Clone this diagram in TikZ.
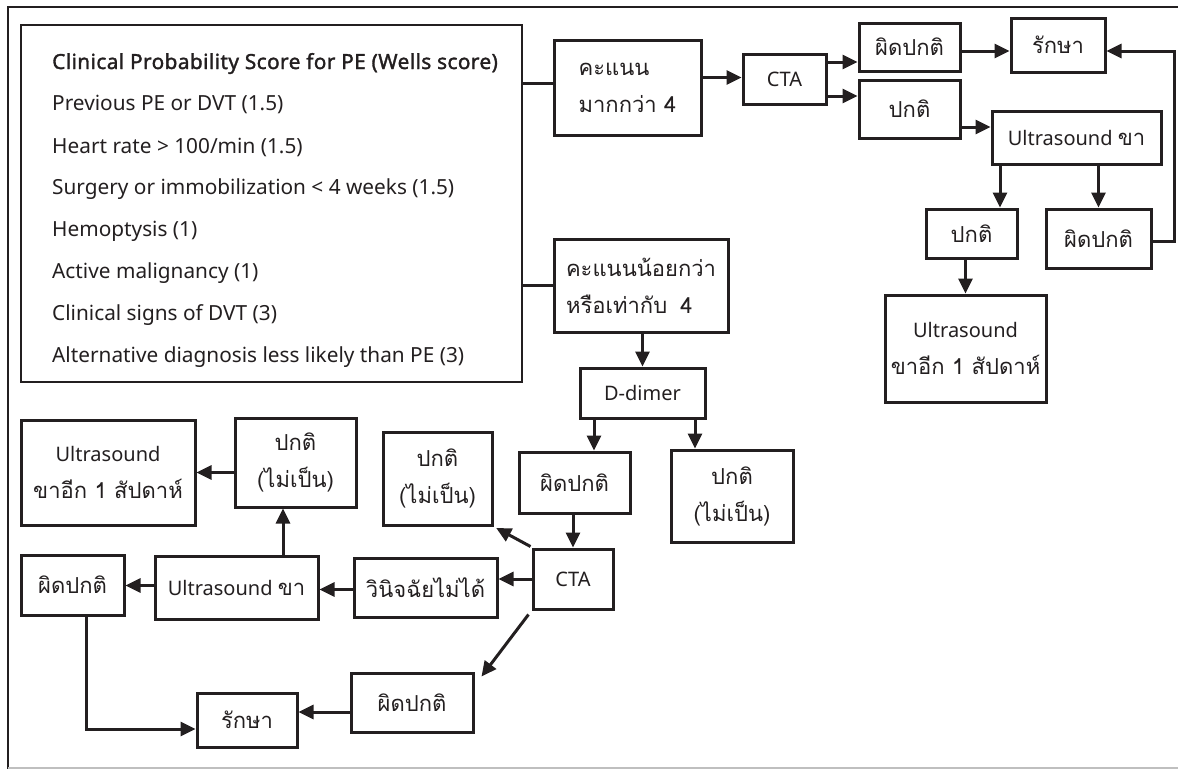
\documentclass[tikz,border=0pt]{standalone}
\usepackage{fontspec}
\setmainfont{Noto Sans}
\newfontfamily\thaifont[Script=Thai,Scale=1.1]{Loma}
\newfontfamily\titlefont{Noto Sans}[FakeBold=1.6,LetterSpace=2]
\newcommand\tha[1]{{\thaifont #1}}
\usetikzlibrary{arrows.meta}
\definecolor{ink}{HTML}{231F20}
\begin{document}
\begin{tikzpicture}[x=1pt,y=-1pt,
  box/.style={draw=ink, line width=3pt, inner sep=0pt, align=center, text=ink,
              font=\fontsize{20}{37}\selectfont},
  arr/.style={draw=ink, line width=3pt, -{Triangle[length=15pt,width=14pt]}},
  conn/.style={draw=ink, line width=3pt},
  bigbox/.style={draw=ink, line width=2pt, inner sep=0pt},
  scoreline/.style={anchor=base west, inner sep=0pt, text=ink, font=\fontsize{20.8}{24}\selectfont}]
\useasboundingbox (0,0) rectangle (1178,769);
% outer frame
\draw[ink, line width=2.5pt] (1178,7) -- (8,7) -- (8,769);
\draw[black!25, line width=1.5pt] (8,768) -- (1178,768);

% score box
\node[bigbox, minimum width=501pt, minimum height=357pt] (score) at (271.5,203.5) {};
\node[scoreline] (l1) at (52,69)  {\titlefont\fontsize{20.8}{24}\selectfont Clinical Probability Score for PE (Wells score)};
\node[scoreline] (l2) at (52,110) {Previous PE or DVT (1.5)};
\node[scoreline] (l3) at (52,153) {Heart rate > 100/min (1.5)};
\node[scoreline] (l4) at (52,194) {Surgery or immobilization < 4 weeks (1.5)};
\node[scoreline] (l5) at (52,236) {Hemoptysis (1)};
\node[scoreline] (l6) at (52,278) {Active malignancy (1)};
\node[scoreline] (l7) at (52,320) {Clinical signs of DVT (3)};
\node[scoreline] (l8) at (52,362) {Alternative diagnosis less likely than PE (3)};

% upper branch
\node[box, align=left, minimum width=147pt, minimum height=95pt] (k1) at (627.5,87.5) {\tha{คะแนน}\\\tha{มากกว่า 4}};
\node[box, minimum width=83pt, minimum height=50pt] (cta1) at (784.5,79) {CTA};
\node[box, minimum width=101pt, minimum height=48pt] (ab1) at (909.5,47) {\tha{ผิดปกติ}};
\node[box, minimum width=101pt, minimum height=58pt] (n1) at (909.5,109) {\tha{ปกติ}};
\node[box, minimum width=94pt, minimum height=54pt] (rx1) at (1058,45) {\tha{รักษา}};
\node[box, minimum width=169pt, minimum height=53pt] (us1) at (1076.5,137.5) {Ultrasound \tha{ขา}};
\node[box, minimum width=91pt, minimum height=49pt] (n2) at (971.5,233.5) {\tha{ปกติ}};
\node[box, minimum width=105pt, minimum height=59pt] (ab2) at (1098.5,238.5) {\tha{ผิดปกติ}};
\node[box, minimum width=161pt, minimum height=107pt] (us2) at (965.5,348.5) {Ultrasound\\\tha{ขาอีก 1 สัปดาห์}};

% lower branch
\node[box, align=left, minimum width=174pt, minimum height=93pt] (k2) at (641,285.5) {\tha{คะแนนน้อยกว่า}\\\tha{หรือเท่ากับ\hspace{0.6em}4}};
\node[box, minimum width=125pt, minimum height=50pt] (dd) at (642.5,393) {D-dimer};
\node[box, minimum width=111pt, minimum height=61pt] (ab3) at (574.5,482.5) {\tha{ผิดปกติ}};
\node[box, minimum width=122pt, minimum height=92pt] (n3) at (732,496) {\tha{ปกติ}\\\tha{(ไม่เป็น)}};
\node[box, minimum width=80pt, minimum height=60pt] (cta2) at (573,579) {CTA};
\node[box, minimum width=109pt, minimum height=93pt] (n4) at (437.5,478.5) {\tha{ปกติ}\\\tha{(ไม่เป็น)}};
\node[box, minimum width=143pt, minimum height=59pt] (dx) at (425.5,587.5) {\tha{วินิจฉัยไม่ได้}};
\node[box, minimum width=163pt, minimum height=63pt] (us3) at (236.5,587.5) {Ultrasound \tha{ขา}};
\node[box, minimum width=121pt, minimum height=89pt] (n5) at (295.5,462.5) {\tha{ปกติ}\\\tha{(ไม่เป็น)}};
\node[box, minimum width=174pt, minimum height=105pt] (us4) at (108,472.5) {Ultrasound\\\tha{ขาอีก 1 สัปดาห์}};
\node[box, minimum width=103pt, minimum height=60pt] (ab4) at (72.5,585) {\tha{ผิดปกติ}};
\node[box, minimum width=100pt, minimum height=54pt] (rx2) at (247,720) {\tha{รักษา}};
\node[box, minimum width=122pt, minimum height=59pt] (ab5) at (412,702.5) {\tha{ผิดปกติ}};

% connectors upper
\draw[conn] ([yshift=4.5pt]k1.west -| score.east) -- ([yshift=4.5pt]k1.west);
\draw[conn] (k2.west -| score.east) -- (k2.west);
\draw[arr] ([yshift=10pt]k1.east) coordinate (c1) -- (c1 -| cta1.west);
\draw[arr] ([yshift=17pt]cta1.east) coordinate (c2) -- (c2 -| ab1.west);
\draw[arr] ([yshift=-17pt]cta1.east) coordinate (c3) -- (c3 -| n1.west);
\draw[arr] ([yshift=-4pt]ab1.east) coordinate (c4) -- (c4 -| rx1.west);
\draw[arr] ([yshift=-18pt]n1.east) coordinate (c5) -- (c5 -| us1.west);
\draw[arr] ([xshift=28.5pt]n2.north |- us1.south) -- ([xshift=28.5pt]n2.north);
\draw[arr] (ab2.north |- us1.south) -- (ab2.north);
\draw[arr] ([yshift=-3pt]ab2.east) -- ++(22,0) |- ([yshift=-6pt]rx1.east);
\draw[arr] (us2.north |- n2.south) -- (us2.north);

% connectors lower
\draw[arr] (dd.north |- k2.south) -- (dd.north);
\draw[arr] ([xshift=19.5pt]ab3.north |- dd.south) -- ([xshift=19.5pt]ab3.north);
\draw[arr] ([xshift=-37pt]n3.north |- dd.south) -- ([xshift=-37pt]n3.north);
\draw[arr] (cta2.north |- ab3.south) -- (cta2.north);
\draw[arr, shorten >=3pt] ([shift={(-1,-1)}]cta2.north west) -- (n4.south east);
\draw[arr] (cta2.west) -- (cta2.west -| dx.east);
\draw[arr] ([yshift=-2pt]dx.west) coordinate (c6) -- (c6 -| us3.east);
\draw[arr] ([xshift=-12.5pt]n5.south |- us3.north) -- ([xshift=-12.5pt]n5.south);
\draw[arr] (us4.east -| n5.west) -- (us4.east);
\draw[arr] ([yshift=2pt]us3.west) coordinate (c7) -- (c7 -| ab4.east);
\draw[arr] ([xshift=13.5pt]ab4.south) |- ([yshift=-9pt]rx2.west);
\draw[arr] ([shift={(-3,4)}]cta2.south west) -- ([shift={(7,5)}]ab5.north east);
\draw[arr] ([yshift=-9.5pt]ab5.west) coordinate (c8) -- (c8 -| rx2.east);
\end{tikzpicture}
\end{document}
